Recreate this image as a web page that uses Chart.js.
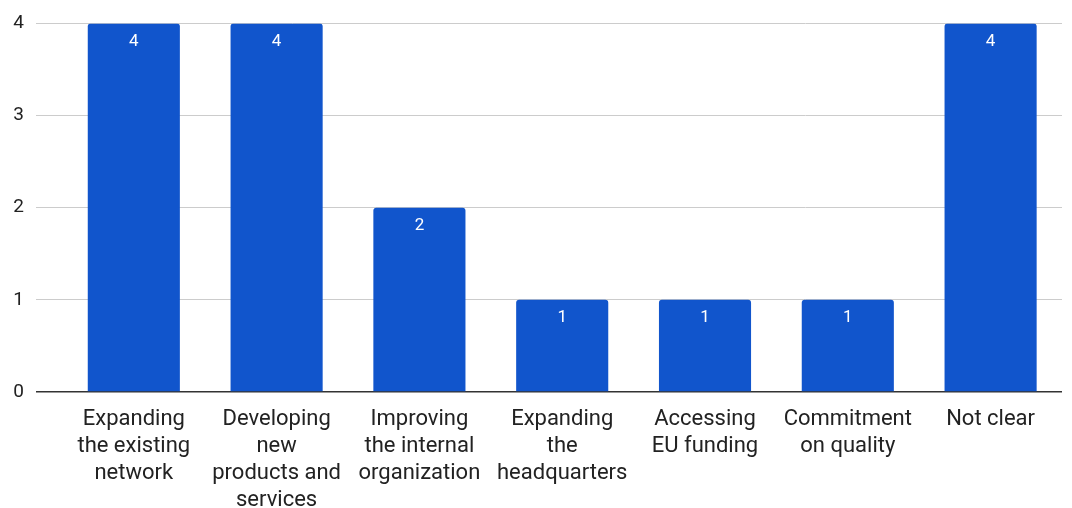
<!DOCTYPE html>
<html>
<head>
<meta charset="utf-8">
<script src="https://cdn.jsdelivr.net/npm/chart.js@4/dist/chart.umd.min.js"></script>
<style>
  html, body { margin: 0; padding: 0; background: #fff; }
  #wrap { width: 1072px; height: 508px; }
</style>
</head>
<body>
<div id="wrap"><canvas id="c"></canvas></div>
<script>
const categories = [
  ["Expanding", "the existing", "network"],
  ["Developing", "new", "products and", "services"],
  ["Improving", "the internal", "organization"],
  ["Expanding", "the", "headquarters"],
  ["Accessing", "EU funding"],
  ["Commitment", "on quality"],
  ["Not clear"]
];
const counts = [4, 4, 2, 1, 1, 1, 4];
const yTicks = [0, 1, 2, 3, 4];

const FONT = "Roboto, 'Liberation Sans', Arial, sans-serif";

// white value label placed just under the top of each bar
const valueLabels = {
  id: 'valueLabels',
  afterDatasetsDraw(chart) {
    const ctx = chart.ctx;
    const meta = chart.getDatasetMeta(0);
    ctx.save();
    ctx.fillStyle = '#ffffff';
    ctx.font = '17px ' + FONT;
    ctx.textAlign = 'center';
    ctx.textBaseline = 'middle';
    meta.data.forEach((bar, i) => {
      ctx.fillText(String(counts[i]), bar.x, bar.y + 18);
    });
    ctx.restore();
  }
};

new Chart(document.getElementById('c'), {
  type: 'bar',
  data: {
    datasets: [{
      data: counts.map((v, i) => ({ x: i, y: v })),
      backgroundColor: '#1155cc',
      borderRadius: { topLeft: 3, topRight: 3 },
      borderSkipped: 'bottom',
      barPercentage: 1,
      categoryPercentage: 0.645
    }]
  },
  options: {
    responsive: true,
    maintainAspectRatio: false,
    animation: false,
    layout: { padding: { top: 12, right: 10, left: 0, bottom: 0 } },
    plugins: { legend: { display: false }, tooltip: { enabled: false } },
    scales: {
      x: {
        type: 'linear',
        offset: false,
        bounds: 'data',
        min: -0.685,
        max: 6.5,
        afterBuildTicks(scale) {
          scale.ticks = categories.map((_, i) => ({ value: i }));
        },
        afterFit(scale) { scale.height = 116; },
        grid: { display: false, drawTicks: false },
        border: { display: false },
        ticks: {
          autoSkip: false,
          maxRotation: 0,
          padding: 14,
          color: '#222222',
          font: { family: FONT, size: 22, lineHeight: 1.23 },
          callback: (v) => categories[v] || ''
        }
      },
      y: {
        min: 0,
        max: 4,
        afterBuildTicks(scale) {
          scale.ticks = yTicks.map(v => ({ value: v }));
        },
        afterFit(scale) { scale.width = 36; },
        grid: {
          color: (ctx) => ctx.tick && ctx.tick.value === 0 ? '#333333' : '#cccccc',
          lineWidth: (ctx) => ctx.tick && ctx.tick.value === 0 ? 1.5 : 1,
          drawTicks: false
        },
        border: { display: false },
        ticks: {
          padding: 12,
          color: '#222222',
          font: { family: FONT, size: 19 }
        }
      }
    }
  },
  plugins: [valueLabels]
});
</script>
</body>
</html>
